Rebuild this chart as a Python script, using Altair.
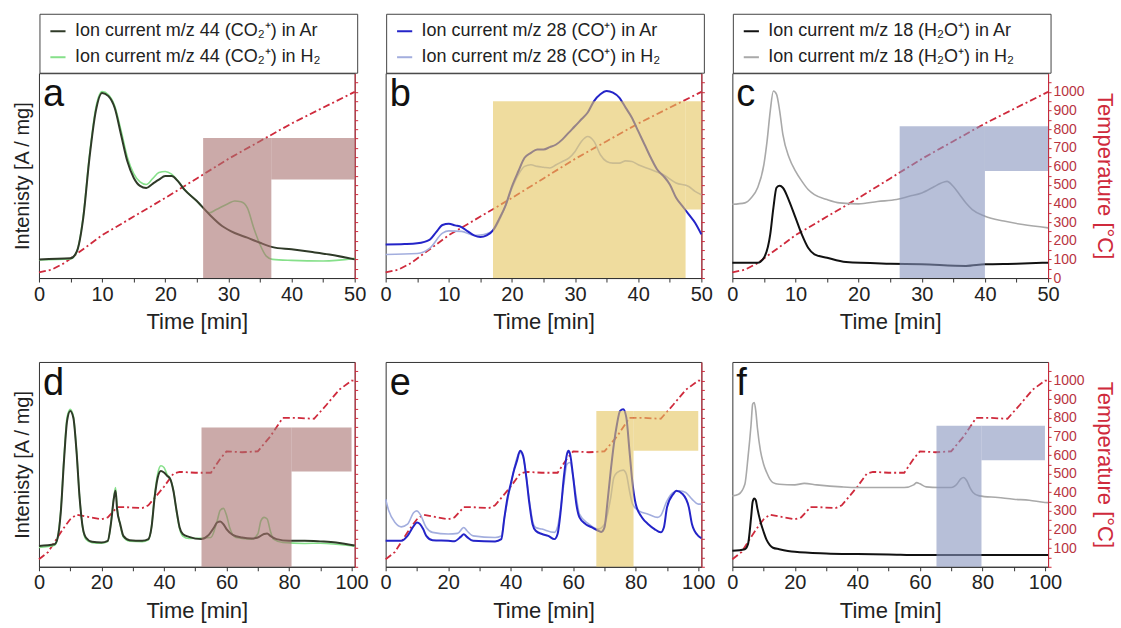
import altair as alt
import pandas as pd

FONT = "Liberation Sans"
RED = "#cf2a3c"
RED_LAB = "#b8343f"

# ---------------- data ----------------
# temperature programmes
tl_t = [0, 2, 4, 5, 6, 8, 10, 15, 20, 25, 30, 35, 40, 45, 50]
tl_v = [30, 45, 80, 105, 130, 180, 230, 330, 430, 535, 640, 735, 830, 915, 1000]
ts_t = [0, 3, 6, 8, 10, 12, 15, 20, 22, 25, 28, 33, 35, 40, 43, 45, 50, 55, 58, 60,
        65, 70, 74, 78, 82, 88, 92, 96, 100, 101]
ts_v = [40, 80, 160, 210, 255, 280, 270, 255, 265, 320, 320, 315, 330, 430, 500, 510, 505, 505, 580, 620,
        615, 620, 700, 800, 800, 795, 870, 950, 1000, 1000]

# panel a  (m/z 44, linear ramp)
a_ar_t = [0, 5, 6, 7, 8, 9, 10, 11, 12, 13, 14, 15, 16, 17, 18, 19, 20, 21, 22, 23, 25, 27, 29, 31, 33, 35, 37, 40, 43, 46, 50]
a_ar_v = [9.1, 9.6, 13, 29, 58.7, 81.5, 90.4, 88.8, 83, 70, 57, 49, 45, 44, 46, 48, 49.8, 49.8, 47.3, 43.3, 37.6, 31, 25.4, 22, 19.7, 17.2, 15.1, 14, 12.8, 11.5, 9.1]
a_h2_t = [0, 5, 6, 7, 8, 9, 10, 11, 12, 13, 14, 15, 16, 17, 18, 19, 20, 21, 22, 23, 25, 26, 27, 28, 30, 31, 32, 33, 34, 35, 36, 37, 40, 45, 50]
a_h2_v = [8.8, 9.3, 13, 30, 60, 83, 91, 89.5, 84, 72, 59, 51, 47, 45.7, 48.5, 51.5, 52, 50.7, 47.5, 43.5, 37.5, 34.3, 31.9, 33.3, 36.4, 37.6, 37.2, 34.3, 24.6, 16.4, 10.7, 9.1, 8.6, 8.3, 9.6]

# panel b  (m/z 28, linear ramp)
b_ar_t = [0, 3, 5, 7, 8, 9, 10, 11, 12, 13, 14, 15, 16, 17, 18, 19, 20, 21, 22, 23, 24, 25, 26, 27, 28, 29, 30, 31, 32, 33,
          34, 35, 36, 37, 38, 39, 40, 41, 42, 43, 44, 45, 46, 47, 48, 49, 50]
b_ar_v = [16.4, 16.6, 17, 18.8, 22.4, 25.9, 26.5, 25.7, 24.9, 22.8, 20.8, 20, 20.8, 23.3, 29, 35.5, 44.7, 52, 58.7, 61.1,
          62.8, 62.8, 63.9, 65.2, 67.7, 71, 74.2, 77.5, 80.8, 86.4, 89.7, 91.3, 90.5, 88.1, 83.2, 78.3, 71.7, 65.2, 58.7,
          53, 49.8, 45.7, 39.2, 35.1, 31.1, 27, 21.3]
b_h2_t = [0, 5, 7, 9, 10, 12, 14, 15, 17, 19, 20, 21, 22, 23, 24, 25, 26, 27, 28, 29, 30, 31, 32, 33, 34, 35, 36, 37, 38,
          39, 40, 42, 44, 46, 48, 49, 50]
b_h2_v = [11.5, 12, 14.6, 21.9, 23, 22.8, 20.8, 21, 23.3, 35.5, 43.9, 50.4, 54.5, 55.3, 54.5, 54.1, 53.7, 55.3, 56.9,
          58.5, 61.8, 66.7, 69.1, 66.7, 60.2, 56.9, 56.1, 56.1, 57.2, 56.9, 55.3, 53, 50.4, 46.4, 44.7, 42.3, 40.7]

# panel c  (m/z 18, linear ramp)
c_ar_t = [0, 4, 5, 6, 6.5, 7, 7.5, 8, 9, 10, 11, 12, 13, 15, 18, 25, 30, 37, 40, 45, 50]
c_ar_v = [7.5, 7.5, 9.9, 21.3, 34.3, 44.1, 45, 44.1, 37.6, 29.5, 21.3, 14.8, 11.6, 9.9, 7.8, 7, 6.7, 5.9, 6.7, 7, 7.5]
c_h2_t = [0, 2, 3, 4, 5, 5.5, 6, 6.5, 7, 7.5, 8, 9, 10, 11, 12, 13, 15, 17, 20, 23, 26, 28, 30, 32, 33, 34, 35, 36, 37,
          38, 40, 43, 46, 50]
c_h2_v = [36, 36.7, 39.2, 44.1, 55.5, 66.8, 81.5, 91.3, 89.7, 81.5, 70.1, 58.7, 52.2, 47.3, 43.2, 40.7, 38.3, 36.7, 36.2,
          37.4, 38.3, 39.9, 41.5, 44.7, 46.3, 47.2, 44.7, 40.7, 36.6, 33.4, 30.2, 27.8, 26.1, 24.5]

# panel d  (m/z 44, stepwise)
d_ar_t = [0, 5, 6, 7, 8, 9, 10, 11, 12, 13, 14, 15, 17, 20, 22, 23, 24, 24.5, 25, 26, 27, 29, 33, 35, 36, 37, 38, 39, 40,
          41, 42, 43, 44, 45, 46, 48, 52, 54, 56, 57, 58, 59, 60, 62, 65, 68, 70, 72, 73, 74, 76, 80, 85, 90, 95, 100, 101]
d_ar_v = [10.2, 11, 14.3, 27, 51.7, 71.2, 76.1, 72.8, 56.6, 33.8, 19.2, 14.3, 12.2, 11.9, 12.7, 20.8, 33.8, 37.1, 28,
          20.8, 15.1, 13, 12.7, 13.5, 19.2, 33.8, 43.6, 46.8, 46, 44.4, 42.8, 37.1, 27.6, 19.2, 16, 14.6, 13.5, 15.1,
          19.2, 21.6, 22.1, 20.8, 18.4, 15.6, 14.3, 13.8, 14.3, 16, 16.3, 15.1, 13.5, 12.7, 12.7, 12.4, 11.9, 10.6, 10.4]
d_h2_t = [0, 5, 6, 7, 8, 9, 10, 11, 12, 13, 14, 15, 17, 20, 22, 23, 24, 24.5, 25, 26, 27, 29, 33, 35, 36, 37, 38, 39, 40,
          41, 42, 43, 44, 45, 46, 48, 55, 57, 58, 59, 60, 61, 63, 68, 70, 71, 72, 73, 74, 75, 78, 85, 90, 100, 101]
d_h2_v = [9.4, 10.5, 14.5, 28, 53, 73, 76.9, 73.5, 57, 34, 19, 13.5, 11.8, 11.5, 12.3, 21, 34.5, 38.7, 29, 20.5, 14.5,
          12.5, 12.3, 13.2, 19.5, 35, 45.5, 49.3, 48.5, 45, 43, 37.5, 27, 18.5, 15, 13.8, 14.3, 22.4, 27.6, 28.5, 25.2,
          19.2, 14.3, 13.5, 16, 22.4, 24.1, 23.3, 17.6, 13.5, 11.9, 11.4, 11.5, 10.2, 10]

# panel e  (m/z 28, stepwise)
e_ar_t = [0, 5, 7, 9, 10, 11, 12, 13, 15, 20, 22, 24, 25, 26, 28, 35, 37, 38, 39, 40, 41, 42, 43, 44, 45, 46, 47, 48, 50,
          52, 54, 55, 56, 57, 58, 58.5, 59, 60, 61, 62, 64, 66, 68, 69, 70, 71, 72, 73, 74, 75, 76, 77, 78, 79, 80, 82,
          84, 86, 88, 89, 90, 92, 93, 95, 97, 98, 100, 101]
e_ar_v = [12.7, 12.7, 15.1, 20, 21.6, 20.8, 18.4, 15.1, 13, 12.7, 12.5, 14.6, 15.9, 14.6, 12.7, 12.4, 13.5, 24.1, 33.8,
          40.3, 46.8, 51.7, 56.6, 54.1, 43.6, 30.6, 20.8, 17.6, 16, 15.1, 13.5, 16, 27.3, 43.6, 55, 56.6, 55, 43.6, 30.6,
          24.1, 20.8, 19.2, 17.6, 17, 19.2, 32.2, 46.8, 59.8, 69.6, 76.1, 76.9, 72.8, 56.6, 40.3, 30.6, 24.1, 20.8, 18.4,
          16.8, 19.2, 29, 35.5, 37.1, 35.5, 29, 20.8, 15.1, 14]
e_h2_t = [0, 1, 3, 5, 7, 9, 10, 11, 13, 15, 20, 23, 25, 26, 28, 35, 37, 38, 40, 43, 44, 46, 47, 48, 50, 54, 55, 57, 58,
          59, 60, 61, 62, 65, 68, 70, 72, 73, 74, 76, 77, 78, 79, 81, 84, 87, 88, 90, 92, 94, 96, 98, 100, 101]
e_h2_v = [33, 27.3, 21.6, 19.5, 20.8, 26.5, 27.3, 25.7, 19.2, 16.8, 16, 16.3, 19.2, 17.6, 15.1, 14.3, 15, 24, 40, 55.8,
          53.5, 32, 22.4, 19.2, 18.4, 16.8, 19.5, 40.3, 50.1, 50.9, 43.6, 33.8, 25.7, 20.8, 18.4, 20.8, 33.8, 43.6, 46,
          47.2, 45.2, 37.1, 30.6, 27.3, 25.7, 24.1, 25, 32.2, 36.3, 37.1, 36.3, 33, 30.6, 30.6]

# panel f  (m/z 18, stepwise)
f_ar_t = [0, 4, 5, 6, 6.5, 7, 7.5, 8, 9, 10, 11, 12, 13, 15, 20, 30, 40, 50, 60, 70, 80, 90, 100, 101]
f_ar_v = [7.8, 8.6, 11, 24.1, 31.7, 33.3, 32.5, 28.5, 22, 17.1, 13, 10.6, 9.3, 8.6, 7.3, 6.5, 6.2, 6, 5.7, 5.7, 5.7,
          5.7, 5.7, 5.7]
f_h2_t = [0, 2, 4, 5, 6, 6.5, 7, 7.5, 8, 9, 10, 11, 12, 13, 15, 20, 23, 27, 35, 40, 50, 55, 58, 59, 60, 62, 66, 70, 72,
          73, 74, 75, 76, 77, 79, 85, 90, 95, 100, 101]
f_h2_v = [34.6, 35.4, 40.3, 53.3, 69.6, 79.4, 80.2, 76.1, 68, 56.6, 50.1, 46, 42.8, 41.1, 40.3, 40, 40.7, 40, 39, 38.7,
          38.7, 38.7, 40, 41.1, 40.5, 39, 38.7, 38.7, 40.7, 42.8, 43.6, 42, 38.7, 36.3, 34.6, 33.8, 33, 32.5, 31.4, 31.3]

# highlighted regions (x from, x to, intensity from, intensity to)
a_sh = [[26, 36.8, 0, 68.4], [36.8, 50, 48.1, 68.4]]
b_sh = [[17, 47.5, 0, 86.3], [47.5, 50, 33.5, 86.3]]
c_sh = [[26.5, 40, 0, 74.1], [40, 50, 52.2, 74.1]]
d_sh = [[52, 80.8, 0, 68], [80.8, 100, 46.5, 68]]
e_sh = [[67.4, 79.3, 0, 76.1], [79.3, 100, 56.6, 76.1]]
f_sh = [[65.3, 79.7, 0, 68.8], [79.7, 100, 52, 68.8]]

lab_a = ["Ion current m/z 44 (CO\u2082\u207a) in Ar", "Ion current m/z 44 (CO\u2082\u207a) in H\u2082"]
lab_b = ["Ion current m/z 28 (CO\u207a) in Ar", "Ion current m/z 28 (CO\u207a) in H\u2082"]
lab_c = ["Ion current m/z 18 (H\u2082O\u207a) in Ar", "Ion current m/z 18 (H\u2082O\u207a) in H\u2082"]

col_co2 = ["#2f3a28", "#86e08a"]
col_co = ["#2424c8", "#a3aede"]
col_h2o = ["#111111", "#a9a9a9"]
shade_cols = {"co2": "#a87270", "co": "#e4c55d", "h2o": "#8794be"}

W, H = 316, 205
LEG_H = 59


def panel(letter, ar_t, ar_v, h2_t, h2_v, labels, cols, temp_t, temp_v, shade, shade_col,
          xmax, top_row, left_title, right_labels):
    xs = alt.Scale(domain=[0, xmax], nice=False, zero=False)
    ys = alt.Scale(domain=[0, 100], nice=False, zero=False)
    ts = alt.Scale(domain=[0, 1100], nice=False, zero=False)
    if top_row:
        xvals = list(range(0, 51, 5))
        lexpr = "datum.value % 10 == 0 ? datum.label : ''"
    else:
        xvals = list(range(0, 101, 10))
        lexpr = "datum.value % 20 == 0 ? datum.label : ''"
    xaxis = alt.Axis(values=xvals, labelExpr=lexpr, title="Time [min]", tickSize=4, grid=False,
                     labelPadding=2, titlePadding=8, labelFlush=False, labelOverlap=False,
                     domainColor="#333", tickColor="#333", labelFont=FONT, titleFont=FONT,
                     labelFontSize=20, titleFontSize=22, titleFontWeight="normal",
                     labelColor="#222", titleColor="#222")
    X = alt.X("t:Q", scale=xs, axis=xaxis)
    if left_title:
        yaxis = alt.Axis(title="Intenisty [A / mg]", labels=False, ticks=False, domain=False, grid=False,
                         titlePadding=6, titleFont=FONT, titleFontSize=20, titleFontWeight="normal",
                         titleColor="#222")
    else:
        yaxis = alt.Axis(title=None, labels=False, ticks=False, domain=False, grid=False)

    if top_row:
        legend = alt.Legend(orient="none", legendX=3, legendY=-LEG_H + 1, title=None,
                            padding=7, rowPadding=8, symbolType="stroke",
                            symbolSize=230, symbolStrokeWidth=2, labelFont=FONT, labelFontSize=18,
                            labelColor="#222", labelLimit=600, labelOffset=8)
    else:
        legend = None
    cscale = alt.Scale(domain=labels, range=cols)

    df_ar = pd.DataFrame({"t": ar_t, "v": ar_v, "s": labels[0]})
    df_h2 = pd.DataFrame({"t": h2_t, "v": h2_v, "s": labels[1]})
    h2_line = alt.Chart(df_h2).mark_line(strokeWidth=1.6, interpolate="monotone").encode(
        x=X, y=alt.Y("v:Q", scale=ys, axis=yaxis),
        color=alt.Color("s:N", scale=cscale, legend=legend))
    ar_line = alt.Chart(df_ar).mark_line(strokeWidth=2, interpolate="monotone").encode(
        x=X, y=alt.Y("v:Q", scale=ys, axis=yaxis),
        color=alt.Color("s:N", scale=cscale, legend=legend))
    df_sh = pd.DataFrame(shade, columns=["x1", "x2", "y1", "y2"])
    sh = alt.Chart(df_sh).mark_rect(color=shade_col, opacity=0.6).encode(
        x=alt.X("x1:Q", scale=xs, axis=xaxis), x2="x2:Q",
        y=alt.Y("y1:Q", scale=ys, axis=yaxis), y2="y2:Q")
    ldf = pd.DataFrame({"l": [letter]})
    let = alt.Chart(ldf).mark_text(
        font=FONT, fontSize=38, align="left", baseline="alphabetic", color="#111").encode(
        x=alt.value(4), y=alt.value(33), text="l:N")
    layers = [h2_line, ar_line, sh, let]
    if top_row:
        frame = alt.Chart(ldf).mark_rect(filled=False, stroke="#444", strokeWidth=1).encode(
            x=alt.value(1), x2=alt.value(W + 3), y=alt.value(-LEG_H), y2=alt.value(0))
        layers.append(frame)
    inner = alt.layer(*layers)

    tvals = list(range(0, 1051, 50))
    if right_labels:
        texpr = ("datum.value % 100 == 0 ? datum.label : ''" if top_row
                 else "datum.value % 100 == 0 && datum.value > 0 ? datum.label : ''")
        taxis = alt.Axis(orient="right", values=tvals, labelExpr=texpr, title="Temperature [°C]", format="d",
                         domainColor=RED, tickColor=RED, labelColor=RED_LAB, labelFontSize=14, grid=False,
                         titleColor=RED, titleFontSize=22, titleFont=FONT, labelFont=FONT,
                         titleFontWeight="normal", tickSize=3, labelPadding=2, titlePadding=8,
                         labelFlush=False, labelOverlap=False)
    else:
        taxis = alt.Axis(orient="right", values=tvals, labels=False, title=None, domainColor=RED,
                         tickColor=RED, tickSize=3, grid=False)
    df_t = pd.DataFrame({"t": temp_t, "T": temp_v})
    temp = alt.Chart(df_t).mark_line(color=RED, strokeWidth=1.8, strokeDash=[7, 3, 2, 3]).encode(
        x=X, y=alt.Y("T:Q", scale=ts, axis=taxis))
    return alt.layer(temp, inner).resolve_scale(y="independent").properties(width=W, height=H)


pa = panel("a", a_ar_t, a_ar_v, a_h2_t, a_h2_v, lab_a, col_co2, tl_t, tl_v, a_sh, shade_cols["co2"], 50, True, True, False)
pb = panel("b", b_ar_t, b_ar_v, b_h2_t, b_h2_v, lab_b, col_co, tl_t, tl_v, b_sh, shade_cols["co"], 50, True, False, False)
pc = panel("c", c_ar_t, c_ar_v, c_h2_t, c_h2_v, lab_c, col_h2o, tl_t, tl_v, c_sh, shade_cols["h2o"], 50, True, False, True)
pd_ = panel("d", d_ar_t, d_ar_v, d_h2_t, d_h2_v, lab_a, col_co2, ts_t, ts_v, d_sh, shade_cols["co2"], 101, False, True, False)
pe = panel("e", e_ar_t, e_ar_v, e_h2_t, e_h2_v, lab_b, col_co, ts_t, ts_v, e_sh, shade_cols["co"], 101, False, False, False)
pf = panel("f", f_ar_t, f_ar_v, f_h2_t, f_h2_v, lab_c, col_h2o, ts_t, ts_v, f_sh, shade_cols["h2o"], 101, False, False, True)

chart = alt.concat(pa, pb, pc, pd_, pe, pf, columns=3, spacing={"row": 84, "column": 31},
                   bounds="flush").resolve_scale(color="independent").properties(
    padding={"left": 12, "top": 13, "right": 5, "bottom": 5}, background="white"
).configure_view(stroke="#333", strokeWidth=1)

chart.save("out.html", embed_options={"renderer": "svg", "actions": False})
